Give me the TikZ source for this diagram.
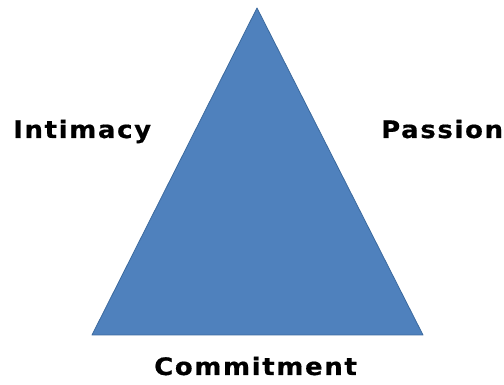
\documentclass[tikz,border=0pt]{standalone}
\usepackage{fontspec}
\setmainfont{DejaVu Sans}
\newfontfamily\labelfont[LetterSpace=7,FakeStretch=1.08,FakeBold=0.6]{DejaVu Sans Bold}
\usetikzlibrary{positioning}
\definecolor{triblue}{HTML}{4F81BD}
\definecolor{triedge}{HTML}{3C6A9E}

\begin{document}
\begin{tikzpicture}[x=1pt,y=1pt,
        corner/.style={font=\labelfont\fontsize{24}{24}\selectfont, inner sep=0pt, anchor=base west}
    ]
    \useasboundingbox (0,0) rectangle (504,385);
    \coordinate (apex) at (257,377);
    \coordinate (left) at (92,50);
    \coordinate (right) at (423,50);
    \fill[triblue, draw=triedge, line width=0.8pt, line join=round] (apex) -- (left) -- (right) -- cycle;
    \node[corner] (intimacy) at (13,247) {Intimacy};
    \node[corner] (passion) at (381,247) {Passion};
    \node[corner] (commitment) at (154,10) {Commitment};
\end{tikzpicture}
\end{document}
